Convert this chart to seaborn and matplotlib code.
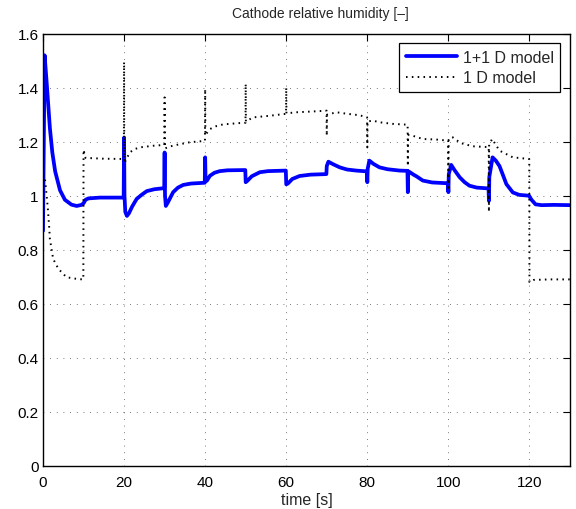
import matplotlib
matplotlib.use("Agg")
import matplotlib.pyplot as plt
import seaborn as sns
import pandas as pd

# ---- data ----
t_2d = [0.0, 0.4, 0.9, 1.7, 2.3, 3.0, 4.2, 5.4, 7.0, 8.3, 9.5, 10.0, 10.5, 11.2, 14.0, 19.9,
        20.0, 20.1, 20.3, 20.7, 21.2, 22.0, 23.1, 24.3, 25.6, 27.5, 29.9,
        30.0, 30.1, 30.3, 30.8, 32.1, 33.3, 34.6, 36.5, 39.9,
        40.0, 40.1, 40.4, 41.2, 42.3, 43.6, 45.5, 49.9,
        50.0, 50.4, 51.5, 53.5, 55.5, 59.9,
        60.0, 60.4, 61.5, 63.3, 66.0, 69.9,
        70.0, 70.4, 71.5, 73.2, 75.0, 77.3, 79.9,
        80.0, 80.1, 80.5, 81.5, 83.0, 85.0, 88.0, 89.9,
        90.0, 90.1, 90.4, 91.5, 92.1, 93.7, 96.0, 99.9,
        100.0, 100.1, 100.7, 101.5, 102.8, 104.0, 105.2, 107.0, 109.9,
        110.0, 110.1, 110.9, 111.7, 112.6, 113.5, 114.3, 115.9, 117.5, 119.9,
        120.5, 121.5, 123.0, 126.0, 130.0]
rh_2d = [0.87, 1.52, 1.42, 1.25, 1.16, 1.09, 1.02, 0.985, 0.967, 0.962, 0.966, 0.972, 0.985, 0.99, 0.993, 0.993,
         1.215, 1.0, 0.94, 0.925, 0.935, 0.96, 0.988, 1.003, 1.017, 1.024, 1.028,
         1.16, 1.0, 0.962, 0.975, 1.013, 1.03, 1.04, 1.045, 1.048,
         1.142, 1.06, 1.055, 1.074, 1.085, 1.091, 1.094, 1.095,
         1.05, 1.055, 1.072, 1.087, 1.091, 1.093,
         1.042, 1.045, 1.062, 1.073, 1.078, 1.08,
         1.11, 1.126, 1.117, 1.105, 1.097, 1.093, 1.09,
         1.05, 1.10, 1.13, 1.118, 1.105, 1.098, 1.093, 1.092,
         1.013, 1.09, 1.088, 1.077, 1.072, 1.056, 1.049, 1.046,
         1.013, 1.08, 1.114, 1.095, 1.068, 1.05, 1.037, 1.03, 1.027,
         0.981, 1.07, 1.142, 1.13, 1.11, 1.075, 1.043, 1.012, 1.003, 1.0,
         0.985, 0.968, 0.965, 0.966, 0.965]

t_1d = [0.0, 0.5, 0.9, 1.2, 1.5, 1.7, 2.5, 3.8, 5.8, 8.7, 9.95,
        10.0, 10.5, 15.0, 19.95,
        20.0, 20.05, 21.4, 22.5, 23.9, 27.2, 29.95,
        30.0, 30.05, 31.5, 32.9, 36.2, 39.95,
        40.0, 40.05, 41.2, 42.8, 44.4, 48.5, 49.95,
        50.0, 50.05, 51.8, 55.9, 59.2, 59.95,
        60.0, 60.05, 62.5, 66.6, 69.95,
        70.0, 70.05, 72.4, 75.2, 78.1, 79.95,
        80.0, 80.05, 81.4, 83.0, 86.3, 89.95,
        90.0, 90.05, 91.2, 93.7, 97.0, 99.95,
        100.0, 100.05, 101.1, 103.0, 106.0, 109.95,
        110.0, 110.05, 110.8, 112.6, 115.9, 119.95,
        120.0, 121.0, 125.0, 130.0]
rh_1d = [1.08, 1.06, 1.0, 0.951, 0.889, 0.84, 0.766, 0.729, 0.698, 0.691, 0.69,
         1.17, 1.14, 1.137, 1.136,
         1.495, 1.12, 1.16, 1.172, 1.179, 1.185, 1.188,
         1.364, 1.175, 1.183, 1.188, 1.198, 1.203,
         1.395, 1.225, 1.247, 1.258, 1.264, 1.269, 1.27,
         1.414, 1.275, 1.29, 1.296, 1.302, 1.303,
         1.40, 1.305, 1.309, 1.312, 1.315,
         1.222, 1.30, 1.309, 1.303, 1.298, 1.29,
         1.179, 1.275, 1.278, 1.272, 1.266, 1.263,
         1.11, 1.225, 1.222, 1.21, 1.208, 1.204,
         1.02, 1.21, 1.216, 1.195, 1.183, 1.18,
         0.94, 1.19, 1.21, 1.167, 1.142, 1.136,
         0.68, 0.688, 0.69, 0.69]

series_names = ["1+1 D model", "1 D model"]
x_ticks = [0, 20, 40, 60, 80, 100, 120]
y_ticks = [0, 0.2, 0.4, 0.6, 0.8, 1.0, 1.2, 1.4, 1.6]
y_tick_labels = ["0", "0.2", "0.4", "0.6", "0.8", "1", "1.2", "1.4", "1.6"]

df_2d = pd.DataFrame({"t": t_2d, "rh": rh_2d})
df_1d = pd.DataFrame({"t": t_1d, "rh": rh_1d})

sns.set_style("white")
plt.rcParams["font.family"] = ["Liberation Sans", "DejaVu Sans"]

fig = plt.figure(figsize=(5.76, 5.10), dpi=100)
ax = fig.add_axes([43 / 576, 1 - 466.7 / 510, (570 - 43) / 576, (466.7 - 34.7) / 510])

sns.lineplot(data=df_2d, x="t", y="rh", ax=ax, estimator=None, sort=False,
             color="#0000ff", linewidth=2.7, label=series_names[0])
sns.lineplot(data=df_1d, x="t", y="rh", ax=ax, estimator=None, sort=False,
             color="black", linewidth=1.4, linestyle=(0, (0.8, 2.2)), label=series_names[1])

ax.set_xlim(0, 130)
ax.set_ylim(0, 1.6)
ax.set_xticks(x_ticks)
ax.set_yticks(y_ticks)
ax.set_yticklabels(y_tick_labels)
ax.grid(True, color="black", linestyle=(0, (1, 7)), linewidth=0.6, alpha=0.7)
ax.tick_params(direction="in", length=5, width=0.8, top=True, right=True,
               labelsize=11, colors="black")
ax.tick_params(axis="x", pad=6.5)
ax.tick_params(axis="y", pad=3)
for s in ax.spines.values():
    s.set_visible(True)
    s.set_color("black")
    s.set_linewidth(1.0)

ax.set_xlabel("time [s]", fontsize=11.5, labelpad=2)
ax.set_ylabel("")
ax.set_title("Cathode relative humidity [\u2013]", fontsize=10, pad=12, x=0.526)

leg = ax.legend(loc="upper right", fontsize=11.5, frameon=True, fancybox=False,
                edgecolor="black", framealpha=1, borderaxespad=0.6,
                handlelength=3.2, handletextpad=0.4, borderpad=0.4, labelspacing=0.35)
leg.get_frame().set_linewidth(0.9)

fig.savefig("out.png", dpi=100)
